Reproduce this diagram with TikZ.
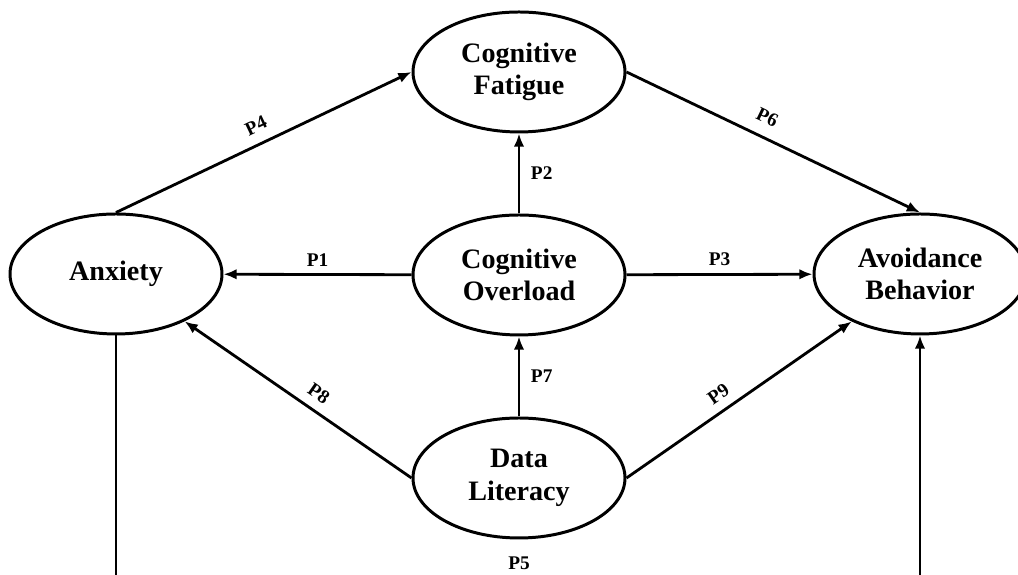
\documentclass[tikz,border=0pt]{standalone}
\usepackage{fontspec}
\setmainfont{Liberation Serif}
\usetikzlibrary{arrows.meta, shapes.geometric}

\tikzset{
  construct/.style={draw, ellipse, line width=1.7pt, minimum width=4.24cm, minimum height=2.4cm,
    inner sep=0pt, align=center, font=\fontsize{16}{18.5}\selectfont\bfseries},
  lbl/.style={font=\fontsize{11}{13}\selectfont\bfseries, inner sep=1pt},
}

\begin{document}
\begin{tikzpicture}[>={Latex[length=7.5pt,width=6pt]}, line width=1.6pt, line join=round]
  \useasboundingbox (0,0) rectangle (20.36,11.5);
  \clip (0,0) rectangle (20.36,11.5);

  % Constructs
  \node[construct] (fat)   at (10.38,10.06) {Cognitive\\Fatigue};
  \node[construct] (anx)   at (2.32,6.02)   {Anxiety};
  \node[construct] (over)  at (10.38,6.00)  {Cognitive\\Overload};
  \node[construct] (avoid) at (18.40,6.02)  {Avoidance\\Behavior};
  \node[construct] (lit)   at (10.38,1.94)  {Data\\Literacy};

  % Paths from overload
  \draw[->] (over) -- node[lbl, above=3pt] (p1) {P1} (anx);
  \draw[->] (over) -- node[lbl, right=5pt] (p2) {P2} (fat);
  \draw[->] (over) -- node[lbl, above=3pt] (p3) {P3} (avoid);

  % Paths via fatigue
  \draw[->] (anx.north) -- node[lbl, sloped, above=5pt] (p4) {P4} (fat.west);
  \draw[->] (fat.east) -- node[lbl, sloped, above=6pt, pos=0.45] (p6) {P6} (avoid.north);

  % Paths from data literacy
  \draw[->] (lit) -- node[lbl, right=5pt] (p7) {P7} (over);
  \draw[->] (lit.west) -- node[lbl, sloped, above=4pt, pos=0.45] (p8) {P8} (anx);
  \draw[->] (lit.east) -- node[lbl, sloped, above=4pt, pos=0.45] (p9) {P9} (avoid);

  % Anxiety to avoidance (runs below the frame)
  \coordinate (base) at (10.38,-0.3);
  \draw[->] (anx.south) |- (base) -| (avoid.south);
  \node[lbl] (p5) at (10.38,0.24) {P5};
\end{tikzpicture}
\end{document}
